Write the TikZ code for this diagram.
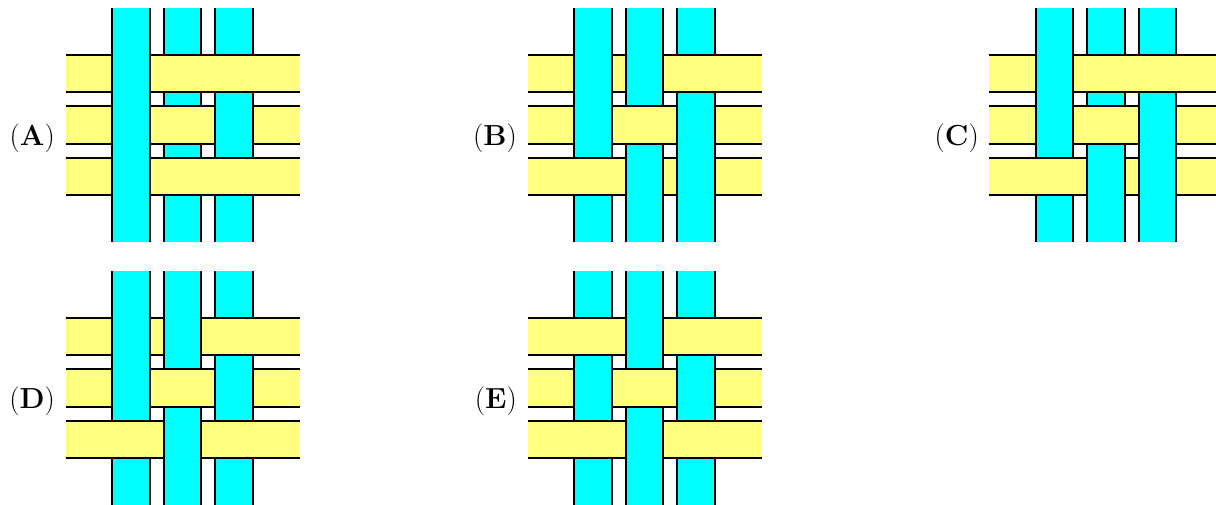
\documentclass[tikz,border=0pt]{standalone}
\usepackage{fontspec}
\definecolor{weft}{RGB}{255,255,128}
\definecolor{warp}{RGB}{0,255,255}
\tikzset{
  edge/.style={line width=2.2pt,black},
  panellabel/.style={anchor=east,inner sep=0pt,font=\fontsize{29}{35}\selectfont}
}
% #1 cx, #2 cy, #3 crossings where the horizontal strip lies on top (row/col)
\newcommand\weavepanel[3]{%
  \begin{scope}[shift={(#1,#2)}]
    \foreach \r in {-1,0,1}{
      \fill[weft] (-117,\r*51.5-18.75) rectangle (117,\r*51.5+18.75);
      \draw[edge] (-117,\r*51.5-18.75) -- (117,\r*51.5-18.75)
                  (-117,\r*51.5+18.75) -- (117,\r*51.5+18.75);
    }
    \foreach \c in {-1,0,1}{
      \fill[warp] (\c*51.5-18.75,-117) rectangle (\c*51.5+18.75,117);
      \draw[edge] (\c*51.5-18.75,-117) -- (\c*51.5-18.75,117)
                  (\c*51.5+18.75,-117) -- (\c*51.5+18.75,117);
    }
    \foreach \r/\c in {#3}{
      \fill[weft] (\c*51.5-20,\r*51.5-18.75) rectangle (\c*51.5+20,\r*51.5+18.75);
      \draw[edge] (\c*51.5-20,\r*51.5-18.75) -- (\c*51.5+20,\r*51.5-18.75)
                  (\c*51.5-20,\r*51.5+18.75) -- (\c*51.5+20,\r*51.5+18.75);
    }
  \end{scope}}
\begin{document}
\begin{tikzpicture}[x=1pt,y=-1pt]
  \useasboundingbox (0,0) rectangle (1216,504);
  \clip (0,0) rectangle (1216,504);
  \weavepanel{182.5}{125}{-1/0,-1/1,0/0,1/0,1/1}
  \weavepanel{644.5}{125}{-1/1,0/0,1/-1}
  \weavepanel{1106}{125}{-1/0,-1/1,0/0,1/-1}
  \weavepanel{182.5}{388}{-1/1,0/0,1/-1,1/1}
  \weavepanel{644.5}{388}{-1/-1,-1/1,0/0,1/-1,1/1}
  \node[panellabel] (la) at (55,138) {(\textbf{A})};
  \node[panellabel] (lb) at (517,138) {(\textbf{B})};
  \node[panellabel] (lc) at (979,138) {(\textbf{C})};
  \node[panellabel] (ld) at (55,401) {(\textbf{D})};
  \node[panellabel] (le) at (517,401) {(\textbf{E})};
\end{tikzpicture}
\end{document}
